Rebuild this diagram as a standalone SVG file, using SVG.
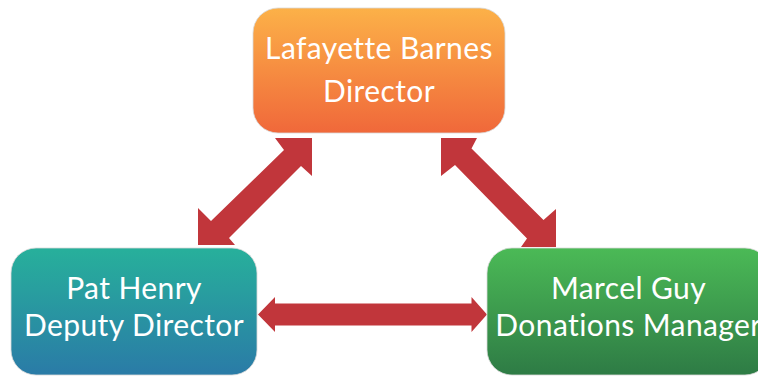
<svg xmlns="http://www.w3.org/2000/svg" width="758" height="377" viewBox="0 0 758 377">
  <defs>
    <linearGradient id="gOrange" x1="0" y1="0" x2="0" y2="1">
      <stop offset="0" stop-color="#FCB148"/>
      <stop offset="1" stop-color="#F0683A"/>
    </linearGradient>
    <linearGradient id="gTeal" x1="0" y1="0" x2="0" y2="1">
      <stop offset="0" stop-color="#27B09B"/>
      <stop offset="1" stop-color="#2A7BA7"/>
    </linearGradient>
    <linearGradient id="gGreen" x1="0" y1="0" x2="0" y2="1">
      <stop offset="0" stop-color="#4BBA56"/>
      <stop offset="1" stop-color="#2E7B45"/>
    </linearGradient>
  </defs>
  <style>
    .box { stroke: #d8d8d8; stroke-width: 0.8; }
    .lbl { font-family: Lato, "Liberation Sans", sans-serif; font-size: 30px; letter-spacing: 0.4px; fill: #ffffff; text-anchor: middle; }
    .arrow { fill: #C1363B; }
  </style>
  <g id="connectors">
    <polygon class="arrow" points="312,138 312,176 301,166 229,238 235,245 198,245 198,208 211,221 284,150 275,138"/>
    <polygon class="arrow" points="441,138 477,138 471.5,148.5 543.5,220 556,209 556,247 521,247 527,238.5 455,165 441,176"/>
    <polygon class="arrow" points="258,314.5 275,297 275,303.5 471.5,303.5 471.5,297 487,314.5 471.5,332 471.5,325.5 275,325.5 275,332"/>
  </g>
  <g id="node-director">
    <rect class="box" x="253" y="8" width="252" height="125" rx="25" ry="25" fill="url(#gOrange)"/>
    <text class="lbl" x="379" y="59">Lafayette Barnes</text>
    <text class="lbl" x="379" y="102">Director</text>
  </g>
  <g id="node-deputy">
    <rect class="box" x="11" y="248" width="246" height="127" rx="25" ry="25" fill="url(#gTeal)"/>
    <text class="lbl" x="134" y="299">Pat Henry</text>
    <text class="lbl" x="134" y="336">Deputy Director</text>
  </g>
  <g id="node-donations">
    <rect class="box" x="487" y="248" width="283" height="127" rx="25" ry="25" fill="url(#gGreen)"/>
    <text class="lbl" x="628.5" y="299">Marcel Guy</text>
    <text class="lbl" x="628.5" y="336">Donations Manager</text>
  </g>
</svg>
